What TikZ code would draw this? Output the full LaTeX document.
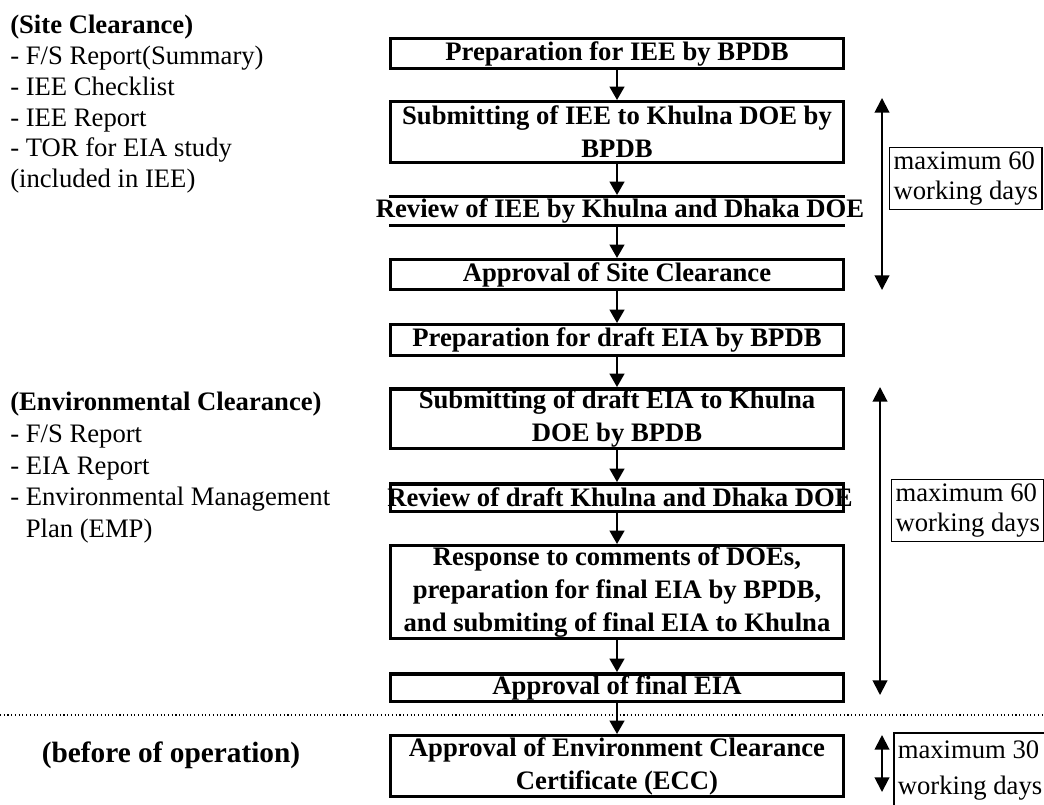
\documentclass[tikz,border=0pt]{standalone}
\usepackage{fontspec}
\setmainfont{Liberation Serif}
\usetikzlibrary{arrows.meta}
\begin{document}
\begin{tikzpicture}[x=0.75pt,y=-0.75pt,
  stepbox/.style={draw, line width=2.6pt, minimum width=339.4pt, inner xsep=2pt, inner ysep=0pt, align=center,
    font={\fontsize{20}{24.75}\selectfont\bfseries}},
  flow/.style={line width=1.6pt, -{Triangle[width=11pt,length=10pt]}},
  span/.style={line width=1.5pt, {Triangle[width=11pt,length=11pt]}-{Triangle[width=11pt,length=11pt]}},
  daysbox/.style={draw, line width=0.8pt, align=left, inner xsep=3pt, inner ysep=3pt, anchor=north west,
    font={\fontsize{20}{23}\selectfont}},
  sidetext/.style={anchor=north west, align=left, inner sep=0pt, font={\fontsize{20}{23.5}\selectfont}}
]
\useasboundingbox (0,0) rectangle (1044,805);

% flow boxes
\node[stepbox, minimum height=22.2pt] (b1) at (617,53.5) {Preparation for IEE by BPDB};
\node[stepbox, minimum height=45.4pt] (b2) at (617,132) {Submitting of IEE to Khulna DOE by\\BPDB};
\node[stepbox, minimum height=21.4pt] (b3) at (617,211) {};
\node[fill=white, inner sep=0pt, minimum height=19pt, font={\fontsize{20}{24}\selectfont\bfseries}] (t3) at (620,211) {Review of IEE by Khulna and Dhaka DOE};
\node[stepbox, minimum height=22.2pt] (b4) at (617,274.5) {Approval of Site Clearance};
\node[stepbox, minimum height=22.9pt] (b5) at (617,340) {Preparation for draft EIA by BPDB};
\node[stepbox, minimum height=44.6pt] (b6) at (617,418.5) {Submitting of draft EIA to Khulna\\DOE by BPDB};
\node[stepbox, minimum height=20.6pt] (b7) at (617,497.5) {};
\node[inner sep=0pt, font={\fontsize{20}{24}\selectfont\bfseries}] (t7) at (620,497.5) {Review of draft Khulna and Dhaka DOE};
\node[stepbox, minimum height=69.4pt] (b8) at (617,592) {Response to comments of DOEs,\\preparation for final EIA by BPDB,\\and submiting of final EIA to Khulna};
\node[stepbox, minimum height=20.6pt] (b9) at (617,687.5) {Approval of final EIA};
\node[stepbox, minimum height=45.4pt] (b10) at (617,766) {Approval of Environment Clearance\\Certificate (ECC)};

% dotted separator
\coordinate (dl) at (0,715);
\coordinate (dr) at (1044,715);
\draw[dotted, line width=0.8pt] (dl) -- (dr);

% flow arrows
\draw[flow] (b1.south) -- (b2.north);
\draw[flow] (b2.south) -- (b3.north);
\draw[flow] (b3.south) -- (b4.north);
\draw[flow] (b4.south) -- (b5.north);
\draw[flow] (b5.south) -- (b6.north);
\draw[flow] (b6.south) -- (b7.north);
\draw[flow] (b7.south) -- (b8.north);
\draw[flow] (b8.south) -- (b9.north);
\draw[flow] (b9.south) -- (b10.north);

% duration spans
\coordinate (r1t) at (882,98);
\coordinate (r1b) at (882,290);
\draw[span] (r1t) -- (r1b);
\coordinate (r2t) at (880,387);
\coordinate (r2b) at (880,695);
\draw[span] (r2t) -- (r2b);
\coordinate (r3t) at (882,735);
\coordinate (r3b) at (882,792);
\draw[span] (r3t) -- (r3b);

\node[daysbox] (m1) at (889,147) {maximum 60\\working days};
\node[daysbox] (m2) at (891,479) {maximum 60\\working days};
\node[daysbox, inner ysep=6pt, line width=1.2pt, font={\fontsize{20}{27}\selectfont}] (m3) at (893,732) {maximum 30\\working days};

% left side texts
\node[sidetext, font={\fontsize{20}{23.1}\selectfont}] (lt1) at (10,15) {\textbf{(Site Clearance)}\\- F/S Report(Summary)\\- IEE Checklist\\- IEE Report\\- TOR for EIA study\\(included in IEE)};
\node[sidetext, font={\fontsize{20}{23.8}\selectfont}] (lt2) at (10,392) {\textbf{(Environmental Clearance)}\\- F/S Report\\- EIA Report\\- Environmental Management\\\phantom{- }Plan (EMP)};
\node[font={\fontsize{22}{26}\selectfont\bfseries}, inner sep=0pt] (lt3) at (171,755) {(before of operation)};
\end{tikzpicture}
\end{document}
